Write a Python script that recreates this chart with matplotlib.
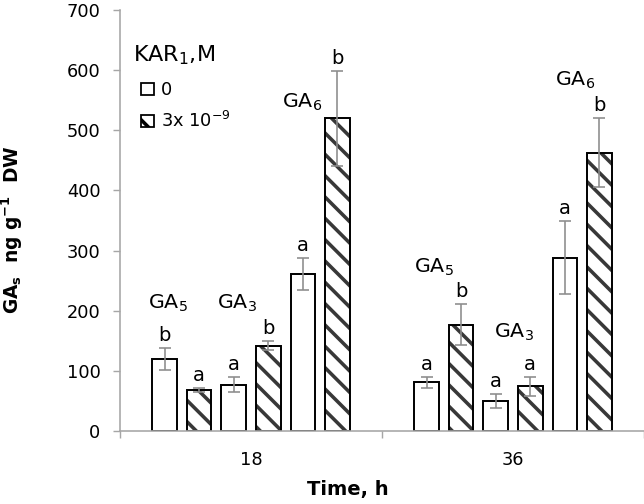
import matplotlib
matplotlib.use("Agg")
import matplotlib.pyplot as plt
import matplotlib.patches as mpatches
from matplotlib.ticker import MultipleLocator, FixedLocator
import numpy as np

plt.rcParams['font.family'] = ['DejaVu Sans']
plt.rcParams['mathtext.fontset'] = 'dejavusans'
plt.rcParams['hatch.linewidth'] = 4.0

# ---- data ----
times = ['18', '36']
ga5_ctrl = [120, 81]
ga5_ctrl_err = [18, 9]
ga5_kar = [68, 177]
ga5_kar_err = [3, 34]
ga3_ctrl = [77, 50]
ga3_ctrl_err = [12, 11]
ga3_kar = [142, 74]
ga3_kar_err = [8, 15]
ga6_ctrl = [261, 288]
ga6_ctrl_err = [27, 61]
ga6_kar = [520, 463]
ga6_kar_err = [79, 58]

ga5_ctrl_let = ['b', 'a']
ga5_kar_let = ['a', 'b']
ga3_ctrl_let = ['a', 'a']
ga3_kar_let = ['b', 'a']
ga6_ctrl_let = ['a', 'a']
ga6_kar_let = ['b', 'b']

ga_names = ['GA$_5$', 'GA$_3$', 'GA$_6$', 'GA$_5$', 'GA$_3$', 'GA$_6$']
legend_title = 'KAR$_1$,M'
legend_labels = ['0', '3x 10$^{-9}$']

# ---- layout ----
DPI = 64
fig = plt.figure(figsize=(644 / DPI, 504 / DPI), dpi=DPI)
ax = fig.add_axes([120 / 644, 1 - 431 / 504, 524 / 644, 421 / 504])

x = np.arange(len(times))
pitch = 0.1317
width = 0.0935

series = [
    (ga5_ctrl, ga5_ctrl_err, ga5_ctrl_let, False),
    (ga5_kar, ga5_kar_err, ga5_kar_let, True),
    (ga3_ctrl, ga3_ctrl_err, ga3_ctrl_let, False),
    (ga3_kar, ga3_kar_err, ga3_kar_let, True),
    (ga6_ctrl, ga6_ctrl_err, ga6_ctrl_let, False),
    (ga6_kar, ga6_kar_err, ga6_kar_let, True),
]

for i, (vals, errs, lets, hatched) in enumerate(series):
    xs = x + (i - 2.5) * pitch
    if hatched:
        ax.bar(xs, vals, width, color='white', edgecolor='#383838', linewidth=0,
               hatch='\\', zorder=2)
        ax.bar(xs, vals, width, fill=False, edgecolor='black', linewidth=2.2, zorder=3)
    else:
        ax.bar(xs, vals, width, color='white', edgecolor='black', linewidth=2.2, zorder=3)
    ax.errorbar(xs, vals, yerr=errs, fmt='none', ecolor='#8c8c8c', elinewidth=1.8,
                capsize=6.5, capthick=1.8, zorder=4)
    for xi, v, e, l in zip(xs, vals, errs, lets):
        ax.annotate(l, (xi, v + e), xytext=(0, 8), textcoords='offset points',
                    ha='center', va='baseline', fontsize=22, zorder=5)

# GA labels (annotation positions)
ga_x = [-0.317, -0.053, 0.195, 0.698, 1.004, 1.238]
ga_y = [204, 204, 537, 263, 155, 574]
for name, gx, gy in zip(ga_names, ga_x, ga_y):
    ax.text(gx, gy, name, ha='center', va='baseline', fontsize=23)

ax.set_xlim(-0.5, 1.5)
ax.set_ylim(0, 700)
ax.yaxis.set_major_locator(MultipleLocator(100))
ax.set_xticks(x)
ax.set_xticklabels(times)
ax.xaxis.set_minor_locator(FixedLocator([-0.5, 0.5, 1.5]))
ax.tick_params(axis='x', which='major', length=0, pad=22, labelsize=20)
ax.tick_params(axis='x', which='minor', length=8, width=1.6, color='#a6a6a6', direction='out')
ax.tick_params(axis='y', which='major', length=8, width=1.6, color='#a6a6a6',
               direction='out', pad=14, labelsize=20)

for s in ['top', 'right']:
    ax.spines[s].set_visible(False)
for s in ['left', 'bottom']:
    ax.spines[s].set_color('#a6a6a6')
    ax.spines[s].set_linewidth(1.8)
ax.spines['bottom'].set_zorder(6)

# legend
h0 = mpatches.Patch(facecolor='white', edgecolor='black', linewidth=2)
h1 = mpatches.Patch(facecolor='white', edgecolor='black', linewidth=2, hatch='\\')
leg = ax.legend([h0, h1], legend_labels, loc='upper left',
                bbox_to_anchor=((141 - 120) / 524, (431 - 81) / 421), frameon=False,
                fontsize=20, handlelength=0.71, handleheight=0.71,
                handletextpad=0.4, labelspacing=0.68, borderpad=0, borderaxespad=0)
fig.text(133 / 644, 1 - 61 / 504, legend_title, ha='left', va='baseline', fontsize=25)

fig.text(12 / 644, 1 - 230 / 504, 'GA$_\\mathbf{s}$  ng g$^{\\mathbf{-1}}$  DW',
         rotation=90, ha='center', va='center', fontsize=21, fontweight='bold')
fig.text(348 / 644, 1 - 490 / 504, 'Time, h', ha='center', va='center',
         fontsize=22, fontweight='bold')

fig.savefig('out.png', dpi=DPI)
